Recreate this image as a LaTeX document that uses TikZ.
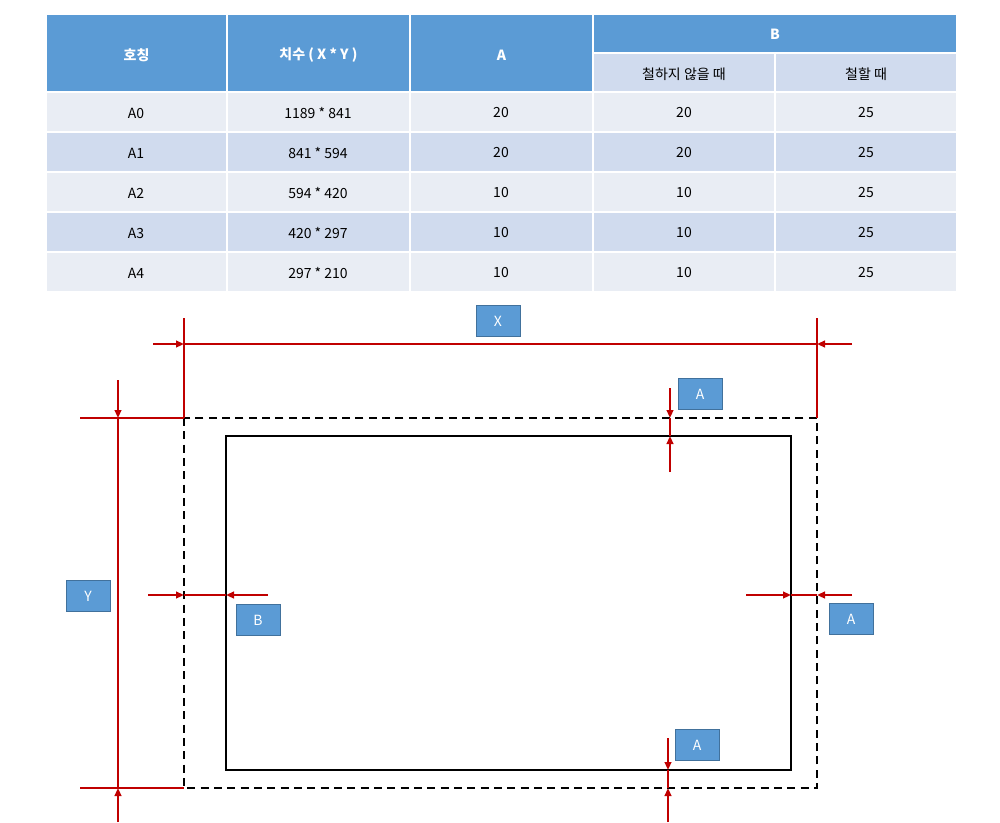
\documentclass[tikz,border=0pt]{standalone}
\usepackage{fontspec}
\setmainfont{Noto Sans CJK KR}
\usetikzlibrary{arrows.meta}
\definecolor{hdr}{HTML}{5B9BD5}
\definecolor{rowa}{HTML}{E9EDF4}
\definecolor{rowb}{HTML}{D0DBEE}
\definecolor{lbd}{HTML}{41719C}
\definecolor{dred}{HTML}{C00000}
\begin{document}
\begin{tikzpicture}[x=0.75pt,y=-0.75pt,
  cell/.style={draw=white,line width=1.5pt},
  txt/.style={font=\fontsize{10.5}{12}\selectfont},
  htxt/.style={font=\fontsize{10.5}{12}\selectfont\bfseries,text=white},
  lab/.style={draw=lbd,fill=hdr,line width=0.6pt,minimum width=33pt,minimum height=23pt,inner sep=0pt,font=\fontsize{10.5}{12}\selectfont,text=white},
  dim/.style={dred,line width=1.5pt},
  arr/.style={dred,line width=1.5pt,-{Triangle[length=6pt,width=5pt]}},
  edge/.style={draw}]
\useasboundingbox (0,0) rectangle (1000,822);
% header
\foreach \a/\b/\t [count=\i] in {46/227/호칭,227/410/{치수 ( X * Y )},410/593/A}{
  \fill[hdr] (\a,14) rectangle (\b,92);
  \draw[cell] (\a,14) rectangle (\b,92);
  \node[htxt] (h\i) at ({(\a+\b)/2},55) {\t};}
\fill[hdr] (593,14) rectangle (957,53);
\draw[cell] (593,14) rectangle (957,53);
\node[htxt] (hB) at (775,34) {B};
\fill[rowb] (593,53) rectangle (957,92);
\draw[cell] (593,53) rectangle (775,92);
\draw[cell] (775,53) rectangle (957,92);
\node[txt] (hB1) at (684,74) {철하지 않을 때};
\node[txt] (hB2) at (866,74) {철할 때};
\foreach \n/\s/\av/\bv/\cv [count=\r] in {A0/1189 * 841/20/20/25,A1/841 * 594/20/20/25,A2/594 * 420/10/10/25,A3/420 * 297/10/10/25,A4/297 * 210/10/10/25}{
  \pgfmathsetmacro{\yt}{92+40*(\r-1)}
  \pgfmathsetmacro{\yb}{\yt+40}
  \pgfmathsetmacro{\ym}{\yt+21}
  \ifodd\r \def\rc{rowa}\else\def\rc{rowb}\fi
  \fill[\rc] (46,\yt) rectangle (957,\yb);
  \foreach \a/\b in {46/227,227/410,410/593,593/775,775/957}{\draw[cell] (\a,\yt) rectangle (\b,\yb);}
  \node[txt] (c\r a) at (136,\ym) {\n};
  \node[txt] (c\r b) at (318,\ym) {\s};
  \node[txt] (c\r c) at (501,\ym) {\av};
  \node[txt] (c\r d) at (684,\ym) {\bv};
  \node[txt] (c\r e) at (866,\ym) {\cv};
}
% drawing
\draw[dashed,line width=1.6pt,dash pattern=on 6pt off 4pt] (184,418) rectangle (817,788);
\draw[line width=1.6pt] (226,436) rectangle (791,770);
% X dimension
\draw[dim] (184,318) -- (184,418);
\draw[dim] (817,318) -- (817,418);
\draw[dim] (184,344) -- (817,344);
\draw[arr] (153,344) -- (184,344);
\draw[arr] (852,344) -- (817,344);
% Y dimension
\draw[dim] (80,418) -- (184,418);
\draw[dim] (80,788) -- (184,788);
\draw[dim] (118,418) -- (118,788);
\draw[arr] (118,380) -- (118,418);
\draw[arr] (118,822) -- (118,788);
% top A
\draw[dim] (670,418) -- (670,436);
\draw[arr] (670,388) -- (670,418);
\draw[arr] (670,472) -- (670,436);
% bottom A
\draw[dim] (668,770) -- (668,788);
\draw[arr] (668,738) -- (668,770);
\draw[arr] (668,822) -- (668,788);
% left B
\draw[dim] (184,595) -- (226,595);
\draw[arr] (148,595) -- (184,595);
\draw[arr] (268,595) -- (226,595);
% right A
\draw[dim] (791,595) -- (817,595);
\draw[arr] (746,595) -- (791,595);
\draw[arr] (852,595) -- (817,595);
% labels
\node[lab] (lX) at (498,321) {X};
\node[lab] (lA1) at (700,394) {A};
\node[lab] (lY) at (88,596) {Y};
\node[lab] (lB) at (258,620) {B};
\node[lab] (lA2) at (851,619) {A};
\node[lab] (lA3) at (697,745) {A};
\end{tikzpicture}
\end{document}
